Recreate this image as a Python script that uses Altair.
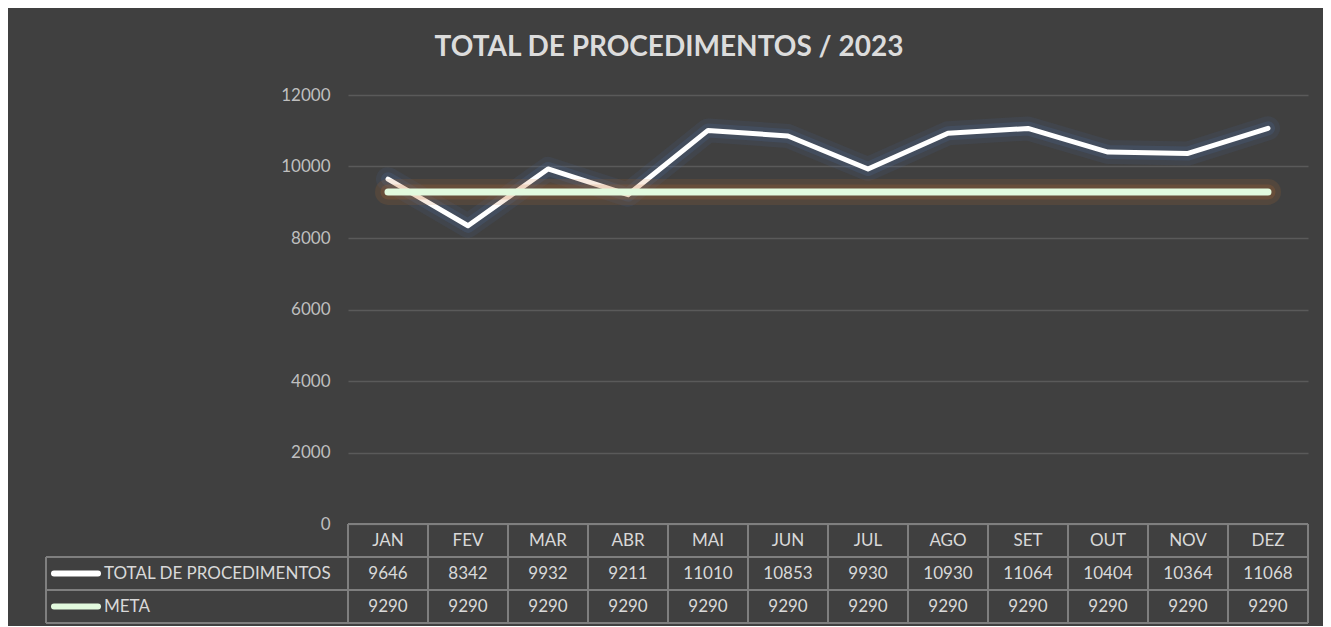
import altair as alt
import pandas as pd

months = ["JAN", "FEV", "MAR", "ABR", "MAI", "JUN", "JUL", "AGO", "SET", "OUT", "NOV", "DEZ"]
total = [9646, 8342, 9932, 9211, 11010, 10853, 9930, 10930, 11064, 10404, 10364, 11068]
meta = [9290, 9290, 9290, 9290, 9290, 9290, 9290, 9290, 9290, 9290, 9290, 9290]
series_names = ["TOTAL DE PROCEDIMENTOS", "META"]
y_ticks = [0, 2000, 4000, 6000, 8000, 10000, 12000]
title_text = "TOTAL DE PROCEDIMENTOS / 2023"

df = pd.DataFrame({
    "month": months + months,
    "series": [series_names[0]] * len(months) + [series_names[1]] * len(months),
    "value": total + meta,
})
df_total = df[df["series"] == series_names[0]]
df_meta = df[df["series"] == series_names[1]]
df_months = pd.DataFrame({"month": months})
df_last = pd.DataFrame({"month": [months[-1]]})
one = pd.DataFrame({"k": [0]})

W, H = 960, 429
GRID = "#7f7f7f"
TXT = "#d9d9d9"
FONT = "Lato"

x_enc = alt.X("month:O", sort=months, scale=alt.Scale(type="point", padding=0.5), axis=None)
y_enc = alt.Y(
    "value:Q",
    scale=alt.Scale(domain=[0, 12000], nice=False),
    axis=alt.Axis(
        values=y_ticks, format="d", grid=True, gridColor="#5a5a5a", gridWidth=1.5, ticks=False,
        domain=False, labelColor="#bfbfbf", labelFont=FONT, labelFontSize=17,
        labelPadding=18, title=None,
    ),
)

def line_layer(data, color, width, opacity=1.0):
    return alt.Chart(data).mark_line(
        color=color, strokeWidth=width, opacity=opacity,
        strokeCap="round", strokeJoin="round",
    ).encode(x=x_enc, y=y_enc)

total_glow1 = line_layer(df_total, "#4a6fa5", 24, 0.12)
total_glow2 = line_layer(df_total, "#4a6fa5", 14, 0.2)
total_line = line_layer(df_total, "#ffffff", 5)
meta_glow1 = line_layer(df_meta, "#c8702a", 26, 0.14)
meta_glow2 = line_layer(df_meta, "#c8702a", 15, 0.18)
meta_line = line_layer(df_meta, "#e2fade", 7)

# table text
Y_HEAD, Y_R1, Y_R2 = 445.5, 478.5, 511.5
txt_kw = dict(font=FONT, fontSize=17, color=TXT, align="center", baseline="middle")
head_txt = alt.Chart(df_months).mark_text(**txt_kw).encode(
    x=alt.X("month:O", sort=months), text="month:N", y=alt.value(Y_HEAD))
r1_txt = alt.Chart(df_total).mark_text(**txt_kw).encode(
    x=alt.X("month:O", sort=months), text="value:Q", y=alt.value(Y_R1))
r2_txt = alt.Chart(df_meta).mark_text(**txt_kw).encode(
    x=alt.X("month:O", sort=months), text="value:Q", y=alt.value(Y_R2))

# table borders
rule_kw = dict(color=GRID, strokeWidth=2)
vrules = alt.Chart(df_months).mark_rule(xOffset=-40, **rule_kw).encode(
    x=alt.X("month:O", sort=months), y=alt.value(429), y2=alt.value(528))
vrule_end = alt.Chart(df_last).mark_rule(xOffset=40, **rule_kw).encode(
    x=alt.X("month:O", sort=months), y=alt.value(429), y2=alt.value(528))
h0 = alt.Chart(one).mark_rule(**rule_kw).encode(
    x=alt.value(0), x2=alt.value(W), y=alt.value(429))
h1 = alt.Chart(one).mark_rule(**rule_kw).encode(
    x=alt.value(-302), x2=alt.value(W), y=alt.value(462))
h2 = alt.Chart(one).mark_rule(**rule_kw).encode(
    x=alt.value(-302), x2=alt.value(W), y=alt.value(495))
h3 = alt.Chart(one).mark_rule(**rule_kw).encode(
    x=alt.value(-302), x2=alt.value(W), y=alt.value(528))
vleft = alt.Chart(one).mark_rule(**rule_kw).encode(
    x=alt.value(-302), y=alt.value(462), y2=alt.value(528))

# legend keys inside table
leg1 = alt.Chart(one).mark_rule(color="#ffffff", strokeWidth=6, strokeCap="round").encode(
    x=alt.value(-294), x2=alt.value(-250), y=alt.value(Y_R1))
leg2 = alt.Chart(one).mark_rule(color="#e2fade", strokeWidth=6, strokeCap="round").encode(
    x=alt.value(-294), x2=alt.value(-250), y=alt.value(Y_R2))
lab_kw = dict(font=FONT, fontSize=17, color=TXT, align="left", baseline="middle")
lab1 = alt.Chart(pd.DataFrame({"series": [series_names[0]]})).mark_text(**lab_kw).encode(
    text="series:N", x=alt.value(-244), y=alt.value(Y_R1))
lab2 = alt.Chart(pd.DataFrame({"series": [series_names[1]]})).mark_text(**lab_kw).encode(
    text="series:N", x=alt.value(-244), y=alt.value(Y_R2))

chart = alt.layer(
    total_glow1, total_glow2, total_line, meta_glow1, meta_glow2, meta_line,
    h0, h1, h2, h3, vleft, vrules, vrule_end,
    head_txt, r1_txt, r2_txt, leg1, leg2, lab1, lab2,
).properties(
    width=W, height=H,
    title=alt.TitleParams(
        text=title_text, color="#dcdcdc", font=FONT, fontSize=28, fontWeight="bold",
        anchor="middle", frame="group", dx=-159, offset=24,
    ),
    autosize=alt.AutoSizeParams(type="none"),
    padding={"left": 340, "top": 87, "right": 15, "bottom": 102},
    background="#404040",
).configure_view(strokeWidth=0)

chart.save("out.html", embed_options={"renderer": "svg", "actions": False})
